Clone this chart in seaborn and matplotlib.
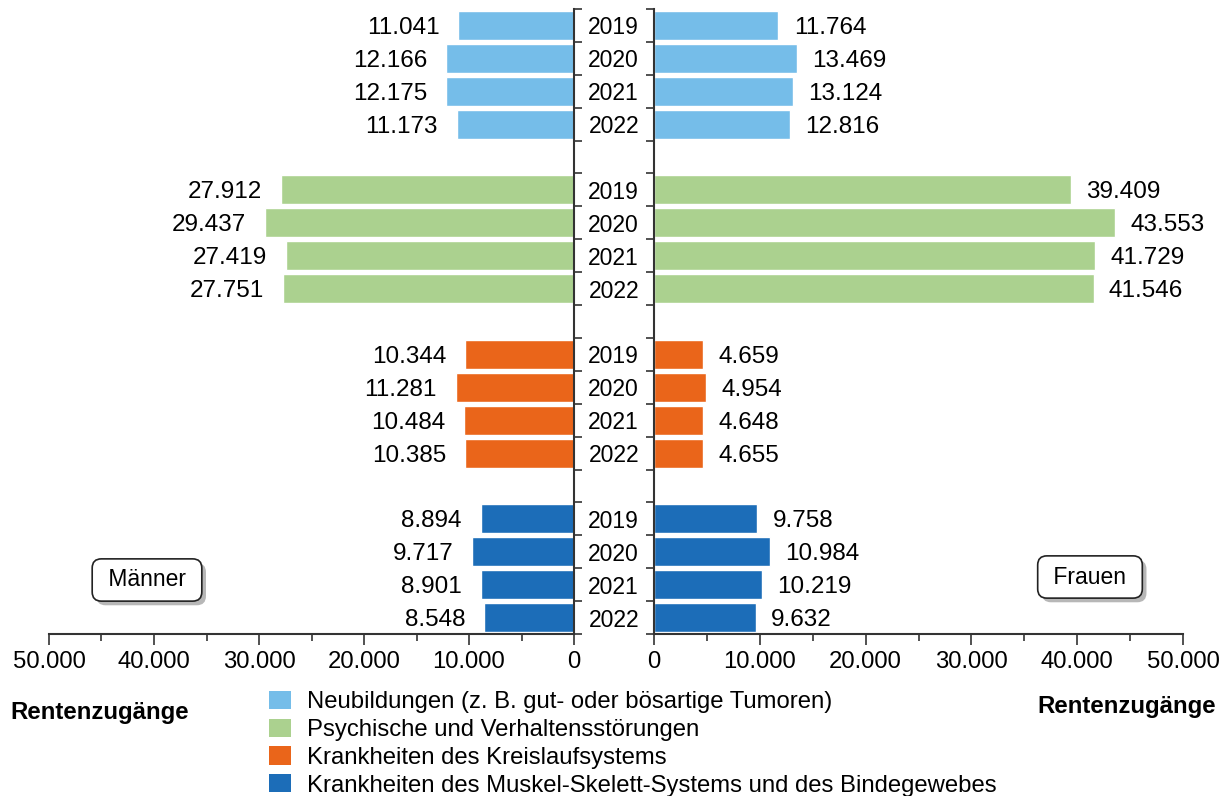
import matplotlib
matplotlib.use("Agg")
import matplotlib.pyplot as plt
import matplotlib.patheffects as pe
from matplotlib.patches import Patch
from matplotlib.ticker import MultipleLocator, FixedLocator, FuncFormatter
import seaborn as sns
import pandas as pd
import numpy as np

# ---------------- data ----------------
years = ["2019", "2020", "2021", "2022"]
categories = [
    "Neubildungen (z. B. gut- oder bösartige Tumoren)",
    "Psychische und Verhaltensstörungen",
    "Krankheiten des Kreislaufsystems",
    "Krankheiten des Muskel-Skelett-Systems und des Bindegewebes",
]
colors = ["#75BDE9", "#ABD18F", "#EA651A", "#1C6DB8"]

maenner_neubildungen = [11041, 12166, 12175, 11173]
maenner_psychisch = [27912, 29437, 27419, 27751]
maenner_kreislauf = [10344, 11281, 10484, 10385]
maenner_muskel = [8894, 9717, 8901, 8548]

frauen_neubildungen = [11764, 13469, 13124, 12816]
frauen_psychisch = [39409, 43553, 41729, 41546]
frauen_kreislauf = [4659, 4954, 4648, 4655]
frauen_muskel = [9758, 10984, 10219, 9632]

x_ticks = [0, 10000, 20000, 30000, 40000, 50000]

maenner = [maenner_neubildungen, maenner_psychisch, maenner_kreislauf, maenner_muskel]
frauen = [frauen_neubildungen, frauen_psychisch, frauen_kreislauf, frauen_muskel]

# ---------------- frame ----------------
rows = []
order = []
year_labels = []
for gi, cat in enumerate(categories):
    for yi, yr in enumerate(years):
        slot = f"{gi}-{yr}"
        order.append(slot)
        year_labels.append(yr)
        rows.append({"slot": slot, "Kategorie": cat, "Jahr": yr,
                     "Maenner": maenner[gi][yi], "Frauen": frauen[gi][yi]})
    if gi < len(categories) - 1:
        order.append(f"gap{gi}")
        year_labels.append("")
df = pd.DataFrame(rows)
palette = dict(zip(categories, colors))

def de_fmt(v):
    return f"{int(round(v)):,}".replace(",", ".")

sns.set_theme(style="white")
plt.rcParams["font.family"] = ["Liberation Sans", "DejaVu Sans"]
plt.rcParams["text.color"] = "black"
plt.rcParams["xtick.labelcolor"] = "black"
plt.rcParams["ytick.labelcolor"] = "black"
FS = 17.5     # value labels
XFS = 17.2    # x tick labels
YFS = 16.5    # year labels
LFS = 17.2    # legend
SPINE = "#333333"

fig = plt.figure(figsize=(12.3, 7.96), dpi=100)
W, H = 1230, 796
top_px, bot_px = 9, 634
axL = fig.add_axes([49 / W, 1 - bot_px / H, (574 - 49) / W, (bot_px - top_px) / H])
axR = fig.add_axes([654 / W, 1 - bot_px / H, (1183 - 654) / W, (bot_px - top_px) / H])

for ax, col in [(axL, "Maenner"), (axR, "Frauen")]:
    sns.barplot(data=df, x=col, y="slot", hue="Kategorie", order=order,
                hue_order=categories, palette=palette, dodge=False,
                width=0.88, orient="h", legend=False, ax=ax, saturation=1,
                errorbar=None)
    ax.set_ylim(len(order) - 0.5, -0.5)
    ax.set_xlim(0, 50000)
    ax.set_xlabel("")
    ax.set_ylabel("")
    ax.xaxis.set_major_locator(FixedLocator(x_ticks))
    ax.xaxis.set_minor_locator(MultipleLocator(5000))
    ax.xaxis.set_major_formatter(FuncFormatter(lambda v, p: de_fmt(v)))
    ax.tick_params(axis="x", which="major", length=8, width=1.2, color=SPINE,
                   labelsize=XFS, pad=4, bottom=True)
    ax.tick_params(axis="x", which="minor", length=5, width=1.2, color=SPINE,
                   bottom=True)
    ax.yaxis.set_minor_locator(FixedLocator(np.arange(-0.5, len(order), 1.0)))
    ax.spines["top"].set_visible(False)
    for s in ax.spines.values():
        s.set_color(SPINE)
        s.set_linewidth(1.5)

axL.set_xlim(50000, 0)

# value labels (screen offset: left for Männer, right for Frauen)
for ax, dx, ha in [(axL, -13.5, "right"), (axR, 11, "left")]:
    for c in ax.containers:
        for bar, v in zip(c.patches, c.datavalues):
            yc = bar.get_y() + bar.get_height() / 2
            ax.annotate(de_fmt(v), xy=(v, yc), xytext=(dx, -1.8),
                        textcoords="offset points", ha=ha, va="center",
                        fontsize=FS, color="black")

# left axes (Männer)
axL.spines["left"].set_visible(False)
axL.yaxis.tick_right()
axL.set_yticks(range(len(order)))
axL.set_yticklabels([])
axL.tick_params(axis="y", which="major", length=0, right=False, left=False)
axL.tick_params(axis="y", which="minor", length=6, width=1.2, color=SPINE,
                right=True, left=False, direction="out")

# right axes (Frauen)
axR.spines["right"].set_visible(False)
axR.set_yticks(range(len(order)), year_labels)
axR.tick_params(axis="y", which="major", length=0, left=False, right=False,
                labelsize=YFS, pad=29)
for lbl in axR.get_yticklabels():
    lbl.set_horizontalalignment("center")
axR.tick_params(axis="y", which="minor", length=6, width=1.2, color=SPINE,
                left=True, right=False, direction="out")

# boxes
shadow = [pe.SimplePatchShadow(offset=(3, -3), shadow_rgbFace="#888888", alpha=0.6), pe.Normal()]
for x, y, txt in [(147 / W, 1 - 580 / H, " Männer "), (1090 / W, 1 - 577 / H, " Frauen ")]:
    t = fig.text(x, y, txt, ha="center", va="center", fontsize=16.5,
                 bbox=dict(boxstyle="round,pad=0.42,rounding_size=0.4",
                           fc="white", ec="#222222", lw=1.2))
    t.get_bbox_patch().set_path_effects(shadow)

# axis titles
fig.text(10 / W, 1 - 712 / H, "Rentenzugänge", ha="left", va="center",
         fontsize=17.3, fontweight="bold")
fig.text(1216 / W, 1 - 707 / H, "Rentenzugänge", ha="right", va="center",
         fontsize=17.3, fontweight="bold")

# legend
handles = [Patch(facecolor=c, edgecolor="none") for c in colors]
fig.legend(handles, categories, loc="upper left",
           bbox_to_anchor=(269 / W, 1 - 691 / H), frameon=False,
           fontsize=LFS, handlelength=0.9, handleheight=0.8,
           handletextpad=0.7, labelspacing=0.22, borderaxespad=0,
           borderpad=0)

fig.savefig("out.png", dpi=100)
